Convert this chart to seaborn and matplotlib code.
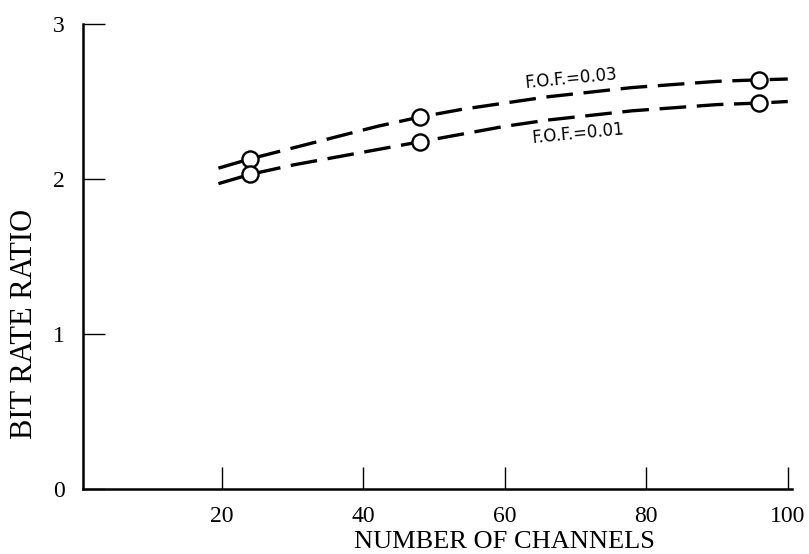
import matplotlib
matplotlib.use("Agg")
import matplotlib.pyplot as plt
import seaborn as sns
import pandas as pd

# ---- data ----
curve_x = [19.5, 24, 30, 36, 42, 48, 54, 60, 66, 72, 78, 84, 90, 96, 100]
curve_fof03 = [2.07, 2.13, 2.20, 2.27, 2.34, 2.40, 2.45, 2.49, 2.53, 2.56,
               2.59, 2.61, 2.63, 2.64, 2.645]
curve_fof01 = [1.97, 2.03, 2.09, 2.14, 2.19, 2.24, 2.29, 2.34, 2.38, 2.41,
               2.44, 2.46, 2.48, 2.49, 2.50]

point_x = [24, 48, 96]
point_fof03 = [2.13, 2.40, 2.64]
point_fof01 = [2.03, 2.24, 2.49]

x_ticks = [20, 40, 60, 80, 100]
y_ticks = [0, 1, 2, 3]
label_03 = "F.O.F.=0.03"
label_01 = "F.O.F.=0.01"
x_label = "NUMBER OF CHANNELS"
y_label = "BIT RATE RATIO"

sns.set_theme(style="white")
plt.rcParams["font.family"] = ["Liberation Serif", "DejaVu Serif"]

fig = plt.figure(figsize=(8.09, 5.54), dpi=100)
ax = fig.add_axes([83 / 809, 65 / 554, (792 - 83) / 809, (489 - 24) / 554])

curves = pd.DataFrame({"x": curve_x, "a": curve_fof03, "b": curve_fof01})
points = pd.DataFrame({"x": point_x, "a": point_fof03, "b": point_fof01})

for col in ["a", "b"]:
    sns.lineplot(data=curves, x="x", y=col, ax=ax, color="black", lw=2.4,
                 linestyle=(0, (8, 3.2)), zorder=2)
    sns.scatterplot(data=points, x="x", y=col, ax=ax, s=135, marker="o",
                    facecolor="white", edgecolor="black", linewidth=1.7, zorder=3)

ax.text(69.3, 2.65, label_03, rotation=5.5, ha="center", va="center",
        fontsize=12, color="black", family=["DejaVu Sans"])
ax.text(70.3, 2.295, label_01, rotation=5.5, ha="center", va="center",
        fontsize=12, color="black", family=["DejaVu Sans"])

ax.set_xlim(0.35, 100.6)
ax.set_ylim(0, 3)
ax.set_xticks(x_ticks)
ax.set_xticklabels([str(v) for v in x_ticks])
ax.set_yticks(y_ticks)
ax.set_yticklabels([str(v) for v in y_ticks])

for s in ["top", "right"]:
    ax.spines[s].set_visible(False)
for s in ["left", "bottom"]:
    ax.spines[s].set_color("black")
    ax.spines[s].set_linewidth(1.8)

ax.tick_params(axis="x", direction="in", length=16, width=1.0, colors="black",
               labelsize=17, pad=12, bottom=True)
ax.tick_params(axis="y", direction="in", length=16, width=1.0, colors="black",
               labelsize=17, pad=13, left=True)

ax.set_xlabel(x_label, fontsize=19, color="black")
ax.set_ylabel(y_label, fontsize=22, color="black")
ax.xaxis.set_label_coords(0.595, -0.113)
ax.yaxis.set_label_coords(-0.083, 0.355)
ax.xaxis.label.set_va("center")
ax.yaxis.label.set_va("center")

fig.savefig("out.png", dpi=100, facecolor="white")
